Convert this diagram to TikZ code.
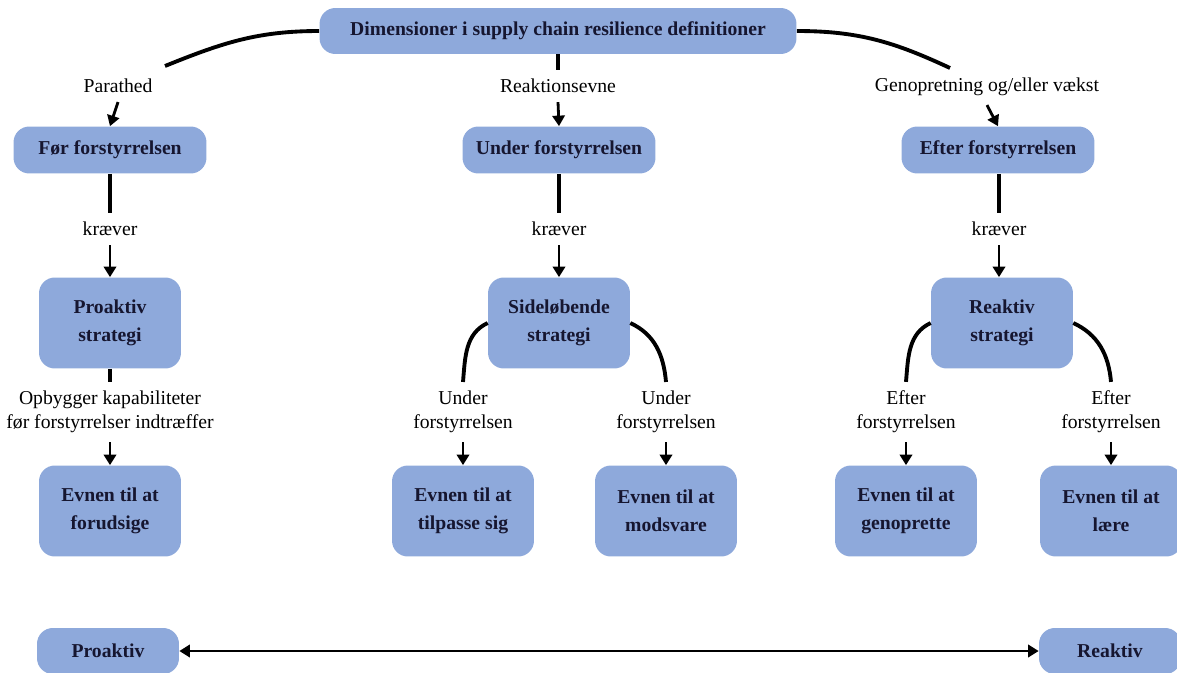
\documentclass[tikz,border=0pt]{standalone}
\usepackage{fontspec}
\setmainfont{Liberation Serif}
\usetikzlibrary{arrows.meta}
\definecolor{blokblaa}{RGB}{142,169,219}
\definecolor{blokskrift}{RGB}{22,22,48}
\tikzset{
  blok/.style={fill=blokblaa, rounded corners=9pt, text=blokskrift, align=center, inner sep=0pt,
    font=\bfseries\fontsize{11.2}{15.8}\selectfont},
  smalblok/.style={blok, minimum width=3.86cm, minimum height=0.94cm},
  firkant/.style={blok, minimum width=2.84cm, minimum height=1.82cm},
  tekst/.style={align=center, inner sep=5pt, font=\fontsize{11.2}{13.6}\selectfont},
  streg/.style={line width=2.2pt},
  pil/.style={line width=1.6pt, -{Triangle[width=7pt,length=6pt]}},
}

\begin{document}
\begin{tikzpicture}[x=0.02cm,y=-0.02cm]
\useasboundingbox (0,0) rectangle (1177,673);

% overskrift
\node[blok, minimum width=9.54cm, minimum height=0.92cm] (dim) at (558,31) {Dimensioner i supply chain resilience definitioner};

% faser
\node[tekst] (parat) at (118,86) {Parathed};
\node[tekst] (reakt) at (558,86) {Reaktionsevne};
\node[tekst] (genop) at (987,87) {Genopretning og/eller vækst};
\coordinate (paratV) at (165,66);
\coordinate (genopH) at (950,68);

\node[smalblok] (foer) at (110,150) {Før forstyrrelsen};
\node[smalblok] (under) at (559,150) {Under forstyrrelsen};
\node[smalblok] (efter) at (998,150) {Efter forstyrrelsen};

\draw[streg] (dim.west) to[out=180,in=22] (paratV);
\draw[streg] (dim.south) -- (reakt.north);
\draw[streg] (dim.east) to[out=0,in=155] (genopH);
\draw[pil] (parat.south) -- (foer.north);
\draw[pil] (reakt.south) -- (under.north);
\draw[pil] (genop.south) -- (efter.north);

% kræver
\node[tekst] (kr1) at (110,229) {kræver};
\node[tekst] (kr2) at (559,229) {kræver};
\node[tekst] (kr3) at (999,229) {kræver};

\node[firkant] (proS) at (110,323) {Proaktiv\\strategi};
\node[firkant] (sidS) at (559,323) {Sideløbende\\strategi};
\node[firkant] (reaS) at (1002,323) {Reaktiv\\strategi};

\draw[streg] (foer.south) -- (kr1.north);
\draw[streg] (under.south) -- (kr2.north);
\draw[streg] (efter.south -| kr3) -- (kr3.north);
\draw[pil] (kr1.south) -- (proS.north);
\draw[pil] (kr2.south) -- (sidS.north);
\draw[pil] (kr3.south) -- (kr3.south |- reaS.north);

% evner
\node[tekst] (opb) at (110,412) {Opbygger kapabiliteter\\før forstyrrelser indtræffer};
\node[tekst] (un1) at (463,412) {Under\\forstyrrelsen};
\node[tekst] (un2) at (666,412) {Under\\forstyrrelsen};
\node[tekst] (ef1) at (906,412) {Efter\\forstyrrelsen};
\node[tekst] (ef2) at (1111,412) {Efter\\forstyrrelsen};

\node[firkant] (forud) at (110,511) {Evnen til at\\forudsige};
\node[firkant] (tilp) at (463,511) {Evnen til at\\tilpasse sig};
\node[firkant] (mods) at (666,511) {Evnen til at\\modsvare};
\node[firkant] (genp) at (906,511) {Evnen til at\\genoprette};
\node[firkant] (laer) at (1111,511) {Evnen til at\\lære};

\draw[streg] (proS.south) -- (opb.north);
\draw[streg] (sidS.west) to[out=205,in=85] (un1.north);
\draw[streg] (sidS.east) to[out=-25,in=95] (un2.north);
\draw[streg] (reaS.west) to[out=205,in=85] (ef1.north);
\draw[streg] (reaS.east) to[out=-25,in=95] (ef2.north);
\draw[pil] (opb.south) -- (forud.north);
\draw[pil] (un1.south) -- (tilp.north);
\draw[pil] (un2.south) -- (mods.north);
\draw[pil] (ef1.south) -- (genp.north);
\draw[pil] (ef2.south) -- (laer.north);

% skala
\node[blok, minimum width=2.84cm, minimum height=0.92cm] (proB) at (108,651) {Proaktiv};
\node[blok, minimum width=2.84cm, minimum height=0.92cm] (reaB) at (1110,651) {Reaktiv};
\draw[pil, {Triangle[width=7pt,length=6pt]}-{Triangle[width=7pt,length=6pt]}] (proB.east) -- (reaB.west);
\end{tikzpicture}
\end{document}
